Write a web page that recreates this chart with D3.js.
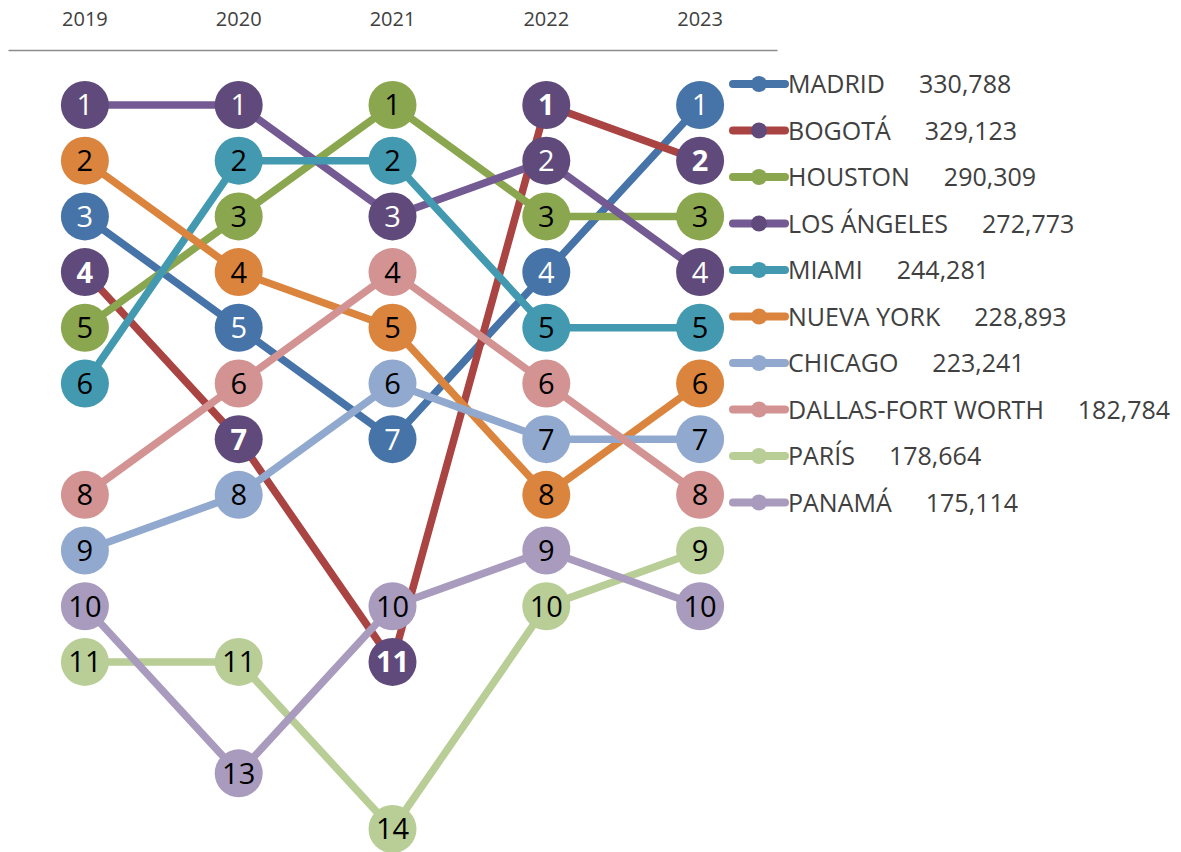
<!DOCTYPE html>
<html>
<head>
<meta charset="utf-8">
<script src="https://cdn.jsdelivr.net/npm/d3@7"></script>
<style>
  body { margin: 0; background: #fff; }
  svg { display: block; font-family: "Open Sans", "Liberation Sans", sans-serif; }
</style>
</head>
<body>
<div id="chart"></div>
<script>
// data
const years = ["2019", "2020", "2021", "2022", "2023"];
const cities = ["MADRID", "BOGOTÁ", "HOUSTON", "LOS ÁNGELES", "MIAMI",
  "NUEVA YORK", "CHICAGO", "DALLAS-FORT WORTH", "PARÍS", "PANAMÁ"];
const totals = [330788, 329123, 290309, 272773, 244281, 228893, 223241, 182784, 178664, 175114];

const madrid = [3, 5, 7, 4, 1];
const bogota = [4, 7, 11, 1, 2];
const houston = [5, 3, 1, 3, 3];
const losAngeles = [1, 1, 3, 2, 4];
const miami = [6, 2, 2, 5, 5];
const nuevaYork = [2, 4, 5, 8, 6];
const chicago = [9, 8, 6, 7, 7];
const dallas = [8, 6, 4, 6, 8];
const paris = [11, 11, 14, 10, 9];
const panama = [10, 13, 10, 9, 10];
const ranks = [madrid, bogota, houston, losAngeles, miami, nuevaYork, chicago, dallas, paris, panama];

// styles
const lineColors = ["#4673a8", "#aa4443", "#8aa64e", "#735a93", "#4299b0",
  "#db843d", "#92a9cf", "#d29392", "#b8ce96", "#a89bbd"];
const markerColors = ["#4673a8", "#5f4a7b", "#8aa64e", "#5f4a7b", "#4299b0",
  "#db843d", "#92a9cf", "#d29392", "#b8ce96", "#a89bbd"];
const labelColors = ["#fff", "#fff", "#000", "#fff", "#000", "#000", "#000", "#000", "#000", "#000"];
const labelWeights = ["normal", "bold", "normal", "normal", "normal", "normal", "normal", "normal", "normal", "normal"];

let width = 1181, height = 852;

let svg = d3.select("#chart")
  .append("svg")
  .attr("width", width)
  .attr("height", height);

let series = cities.map((c, i) => ({
  name: c,
  total: totals[i],
  i: i,
  points: ranks[i].map((r, j) => ({ year: years[j], rank: r }))
}));

// scales
let x = d3.scaleBand()
  .domain(years)
  .range([8, 777]);

let y = d3.scaleLinear()
  .domain([1, 14])
  .range([105, 829]);

// top axis, years only
let xAxis = d3.axisTop(x).tickSize(0).tickPadding(0);
let axisG = svg.append("g")
  .attr("transform", "translate(0, 50)")
  .call(xAxis);
axisG.select(".domain")
  .attr("stroke", "#8c8c8c")
  .attr("stroke-width", 1.5);
axisG.selectAll("text")
  .attr("y", -24)
  .attr("font-size", "20px")
  .attr("font-family", "'Open Sans', sans-serif")
  .attr("fill", "#404040");

let line = d3.line()
  .x(d => x(d.year) + x.bandwidth() / 2)
  .y(d => y(d.rank));

// each series: line, markers, labels (later series on top)
let groups = svg.selectAll("g.series")
  .data(series)
  .enter()
  .append("g")
  .attr("class", "series");

groups.append("path")
  .attr("d", d => line(d.points))
  .attr("fill", "none")
  .attr("stroke", d => lineColors[d.i])
  .attr("stroke-width", 7.5);

groups.selectAll("circle")
  .data(d => d.points.map(p => ({ ...p, i: d.i })))
  .enter()
  .append("circle")
  .attr("cx", d => x(d.year) + x.bandwidth() / 2)
  .attr("cy", d => y(d.rank))
  .attr("r", 24)
  .attr("fill", d => markerColors[d.i]);

groups.selectAll("text")
  .data(d => d.points.map(p => ({ ...p, i: d.i })))
  .enter()
  .append("text")
  .attr("x", d => x(d.year) + x.bandwidth() / 2)
  .attr("y", d => y(d.rank))
  .attr("dy", "0.36em")
  .attr("text-anchor", "middle")
  .attr("font-size", "29px")
  .attr("font-weight", d => labelWeights[d.i])
  .attr("fill", d => labelColors[d.i])
  .text(d => d.rank);

// legend
let legend = svg.append("g")
  .attr("transform", "translate(733, 84)");

let rows = legend.selectAll("g")
  .data(series)
  .enter()
  .append("g")
  .attr("transform", (d, i) => `translate(0, ${i * 46.5})`);

rows.append("line")
  .attr("x1", 0)
  .attr("x2", 52)
  .attr("stroke", d => lineColors[d.i])
  .attr("stroke-width", 8)
  .attr("stroke-linecap", "round");

rows.append("circle")
  .attr("cx", 26)
  .attr("r", 8)
  .attr("fill", d => markerColors[d.i]);

let legendText = rows.append("text")
  .attr("x", 55)
  .attr("dy", "0.36em")
  .attr("font-size", "25px")
  .attr("fill", "#404040");

legendText.append("tspan")
  .text(d => d.name);
legendText.append("tspan")
  .attr("dx", 34)
  .text(d => d3.format(",")(d.total));
</script>
</body>
</html>
